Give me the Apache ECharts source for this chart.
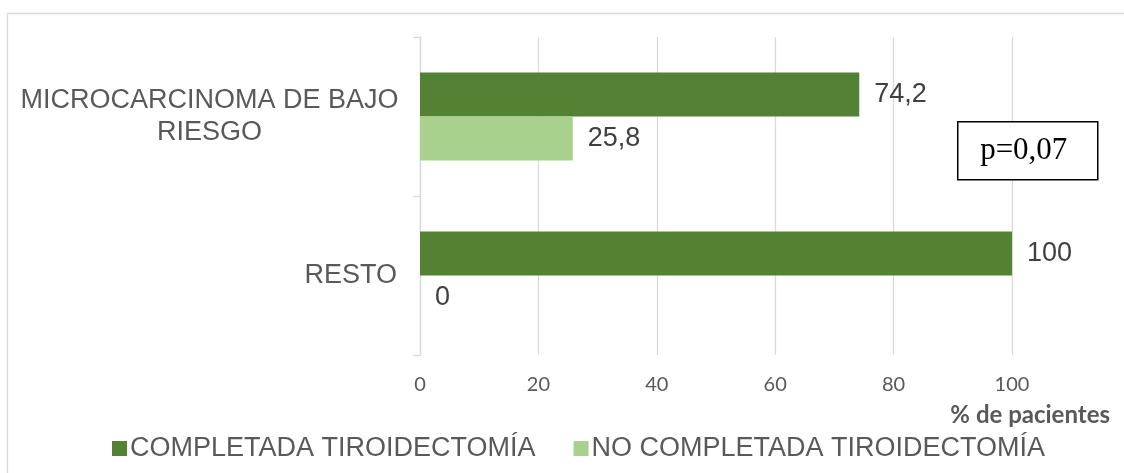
<!DOCTYPE html>
<html>
<head>
<meta charset="utf-8">
<script src="https://cdn.jsdelivr.net/npm/echarts@6/dist/echarts.min.js"></script>
<style>
  html, body { margin: 0; padding: 0; background: #fff; }
  #chart { width: 1124px; height: 473px; }
</style>
</head>
<body>
<div id="chart"></div>
<script>
// Categories (top to bottom) and percentage of patients per group
const categories = ['MICROCARCINOMA DE BAJO\nRIESGO', 'RESTO'];
const completada = [74.2, 100];
const noCompletada = [25.8, 0];
const seriesNames = ['COMPLETADA TIROIDECTOMÍA', 'NO COMPLETADA TIROIDECTOMÍA'];
const xTicks = [0, 20, 40, 60, 80, 100];
const axisTitle = '% de pacientes';
const pValue = 'p=0,07';

const chart = echarts.init(document.getElementById('chart'), null, { renderer: 'canvas' });

const labelFmt = p => String(p.value).replace('.', ',');
const dataLabel = {
  show: true,
  position: 'right',
  distance: 15,
  formatter: labelFmt,
  fontFamily: 'Liberation Sans, Arial, sans-serif',
  fontSize: 27,
  color: '#404040'
};

chart.setOption({
  animation: false,
  grid: { left: 420, right: 112, top: 37, bottom: 118, containLabel: false },
  legend: {
    left: 107,
    top: 430,
    icon: 'rect',
    itemWidth: 15,
    itemHeight: 15,
    itemGap: 38,
    textStyle: {
      fontFamily: 'Liberation Sans, Arial, sans-serif',
      fontSize: 27,
      color: '#595959',
      padding: [0, 0, 0, -2]
    },
    data: seriesNames
  },
  xAxis: {
    type: 'value',
    min: xTicks[0],
    max: xTicks[xTicks.length - 1],
    interval: 20,
    axisLine: { show: false },
    axisTick: { show: false },
    splitLine: { lineStyle: { color: '#d9d9d9', width: 1.3 } },
    axisLabel: {
      margin: 20,
      fontFamily: 'Lato, sans-serif',
      fontSize: 20,
      color: '#595959'
    }
  },
  yAxis: {
    type: 'category',
    inverse: true,
    data: categories,
    axisLine: { show: true, lineStyle: { color: '#d9d9d9', width: 1.3 } },
    axisTick: { show: true, length: 7, lineStyle: { color: '#d9d9d9', width: 1.3 } },
    axisLabel: {
      margin: 23,
      formatter: v => v.indexOf('\n') >= 0
        ? v.split('\n').map(s => '{c|' + s + '}').join('\n')
        : v,
      fontFamily: 'Liberation Sans, Arial, sans-serif',
      fontSize: 27,
      color: '#595959',
      lineHeight: 32,
      rich: {
        c: {
          width: 375,
          align: 'center',
          fontFamily: 'Liberation Sans, Arial, sans-serif',
          fontSize: 27,
          color: '#595959',
          lineHeight: 32
        }
      }
    }
  },
  series: [
    {
      name: seriesNames[0],
      type: 'bar',
      data: completada,
      barWidth: 44,
      barGap: '0%',
      itemStyle: { color: '#548235' },
      label: dataLabel
    },
    {
      name: seriesNames[1],
      type: 'bar',
      data: noCompletada,
      barWidth: 44,
      barGap: '0%',
      itemStyle: { color: '#a9d18e' },
      label: dataLabel
    }
  ],
  graphic: [
    {
      type: 'rect',
      silent: true,
      shape: { x: 7.5, y: 13.5, width: 1200, height: 600 },
      style: { fill: 'none', stroke: '#d9d9d9', lineWidth: 1.3 },
      z: -10
    },
    {
      type: 'text',
      right: 14,
      top: 403,
      z: 100,
      style: {
        text: axisTitle,
        fontFamily: 'Lato, sans-serif',
        fontWeight: 'bold',
        fontSize: 24,
        fill: '#595959'
      }
    },
    {
      type: 'group',
      left: 957,
      top: 121,
      z: 100,
      children: [
        {
          type: 'rect',
          z: 100,
          shape: { x: 0, y: 0, width: 140, height: 58 },
          style: { fill: '#fff', stroke: '#000', lineWidth: 1.5 }
        },
        {
          type: 'text',
          z: 101,
          x: 66,
          y: 29,
          style: {
            text: pValue,
            fontFamily: 'Liberation Serif, Times New Roman, serif',
            fontSize: 31,
            fill: '#000',
            align: 'center',
            verticalAlign: 'middle'
          }
        }
      ]
    }
  ]
});
</script>
</body>
</html>
